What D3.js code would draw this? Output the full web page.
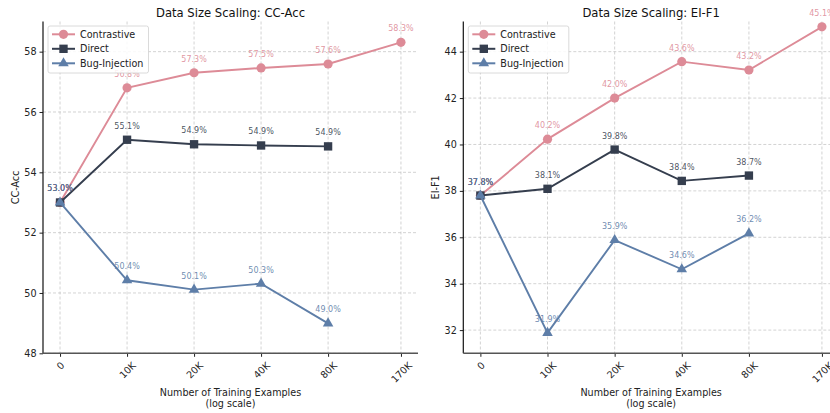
<!DOCTYPE html>
<html>
<head>
<meta charset="utf-8">
<script src="https://cdn.jsdelivr.net/npm/d3@7"></script>
<style>
  body { margin: 0; background: #fff; }
  text { font-family: "DejaVu Sans", sans-serif; }
</style>
</head>
<body>
<svg id="chart" width="830" height="413"></svg>
<script>
// Data
const sizes = [0, 10000, 20000, 40000, 80000, 170000];
const tickLabels = ["0", "10K", "20K", "40K", "80K", "170K"];
const seriesNames = ["Contrastive", "Direct", "Bug-Injection"];

const ccContrastive = [53.0, 56.8, 57.3, 57.46, 57.59, 58.31];
const ccDirect = [53.0, 55.08, 54.93, 54.89, 54.86];
const ccBug = [53.0, 50.42, 50.11, 50.31, 48.99];

const eiContrastive = [37.8, 40.23, 42.0, 43.57, 43.21, 45.07];
const eiDirect = [37.8, 38.09, 39.78, 38.43, 38.66];
const eiBug = [37.8, 31.88, 35.88, 34.62, 36.17];

const ccTicks = [48, 50, 52, 54, 56, 58];
const eiTicks = [32, 34, 36, 38, 40, 42, 44];

const colors = ["#dd8b97", "#353e4e", "#5e7ea8"];
const symbols = [d3.symbolCircle, d3.symbolSquare, d3.symbolTriangle];
const symbolSizes = [66, 70, 48];

const svg = d3.select("#chart");

// log-style position: 0 stays at 0, others log2(n / 5K)
const xPos = n => n === 0 ? 0 : Math.log2(n / 5000);
const xMax = xPos(sizes[sizes.length - 1]);
const xPad = xMax * 0.05;

const plotTop = 21.5, plotBottom = 353.3;

const panels = [
  { title: "Data Size Scaling: CC-Acc", ylabel: "CC-Acc", x0: 43, x1: 418, yDomain: [48, 59],
    yTicks: ccTicks, series: [ccContrastive, ccDirect, ccBug], ylabelX: 15 },
  { title: "Data Size Scaling: EI-F1", ylabel: "EI-F1", x0: 463.3, x1: 839, yDomain: [31, 45.3],
    yTicks: eiTicks, series: [eiContrastive, eiDirect, eiBug], ylabelX: 435 }
];

const fmt = d3.format(".1f");

panels.forEach(p => {
  const x = d3.scaleLinear().domain([-xPad, xMax + xPad]).range([p.x0, p.x1]);
  const y = d3.scaleLinear().domain(p.yDomain).range([plotBottom, plotTop]);
  const g = svg.append("g");

  // Grid
  g.selectAll(".hgrid")
    .data(p.yTicks)
    .enter()
    .append("line")
    .attr("x1", p.x0).attr("x2", p.x1)
    .attr("y1", d => y(d)).attr("y2", d => y(d))
    .attr("stroke", "#c8c8c8")
    .attr("stroke-width", 0.8)
    .attr("stroke-dasharray", "3,2");

  g.selectAll(".vgrid")
    .data(sizes)
    .enter()
    .append("line")
    .attr("x1", d => x(xPos(d))).attr("x2", d => x(xPos(d)))
    .attr("y1", plotTop).attr("y2", plotBottom)
    .attr("stroke", "#c8c8c8")
    .attr("stroke-width", 0.8)
    .attr("stroke-dasharray", "3,2");

  // Lines and markers
  const line = d3.line()
    .x((d, i) => x(xPos(sizes[i])))
    .y(d => y(d));

  p.series.forEach((vals, s) => {
    g.append("path")
      .attr("d", line(vals))
      .attr("fill", "none")
      .attr("stroke", colors[s])
      .attr("stroke-width", 1.9);

    g.selectAll(".m" + s)
      .data(vals)
      .enter()
      .append("path")
      .attr("d", d3.symbol().type(symbols[s]).size(symbolSizes[s]))
      .attr("transform", (d, i) => `translate(${x(xPos(sizes[i]))},${y(d)})`)
      .attr("fill", colors[s]);
  });

  // Value labels
  p.series.forEach((vals, s) => {
    g.selectAll(".l" + s)
      .data(vals)
      .enter()
      .append("text")
      .attr("x", (d, i) => x(xPos(sizes[i])))
      .attr("y", d => y(d) - 11)
      .attr("text-anchor", "middle")
      .attr("font-size", "8px")
      .attr("fill", colors[s])
      .attr("fill-opacity", 0.9)
      .text(d => fmt(d) + "%");
  });

  // Y axis
  const yAxis = g.append("g")
    .attr("transform", `translate(${p.x0},0)`)
    .call(d3.axisLeft(y).tickValues(p.yTicks).tickSize(3.5).tickPadding(3).tickSizeOuter(0));
  yAxis.select(".domain").remove();
  yAxis.selectAll("text").attr("font-size", "9.6px").attr("fill", "#222");
  yAxis.selectAll("line").attr("stroke", "#222");

  // X axis
  const xAxis = g.append("g")
    .attr("transform", `translate(0,${plotBottom})`)
    .call(d3.axisBottom(x).tickValues(sizes.map(xPos)).tickFormat((d, i) => tickLabels[i])
      .tickSize(3.5).tickSizeOuter(0));
  xAxis.select(".domain").remove();
  xAxis.selectAll("line").attr("stroke", "#222");
  xAxis.selectAll("text")
    .attr("font-size", "9.6px")
    .attr("fill", "#222")
    .attr("dy", null)
    .attr("y", 0)
    .attr("text-anchor", "middle")
    .attr("dominant-baseline", "central")
    .each(function () {
      const w = this.getComputedTextLength();
      const cy = 6.8 + (w + 9.6) * 0.3536;
      d3.select(this).attr("transform", `translate(0,${cy}) rotate(-45)`);
    });

  // Spines
  g.append("line")
    .attr("x1", p.x0).attr("x2", p.x0)
    .attr("y1", plotTop).attr("y2", plotBottom)
    .attr("stroke", "#111").attr("stroke-width", 1.2);
  g.append("line")
    .attr("x1", p.x0).attr("x2", p.x1)
    .attr("y1", plotBottom).attr("y2", plotBottom)
    .attr("stroke", "#555").attr("stroke-width", 1.6);

  // Title and labels
  g.append("text")
    .attr("x", (p.x0 + p.x1) / 2)
    .attr("y", 16.5)
    .attr("text-anchor", "middle")
    .attr("font-size", "11.6px")
    .attr("fill", "#111")
    .text(p.title);

  g.append("text")
    .attr("x", (p.x0 + p.x1) / 2)
    .attr("y", 392.7)
    .attr("text-anchor", "middle")
    .attr("dominant-baseline", "central")
    .attr("font-size", "9.6px")
    .attr("fill", "#222")
    .text("Number of Training Examples");
  g.append("text")
    .attr("x", (p.x0 + p.x1) / 2)
    .attr("y", 403)
    .attr("text-anchor", "middle")
    .attr("dominant-baseline", "central")
    .attr("font-size", "9.6px")
    .attr("fill", "#222")
    .text("(log scale)");

  g.append("text")
    .attr("transform", `translate(${p.ylabelX},${(plotTop + plotBottom) / 2}) rotate(-90)`)
    .attr("text-anchor", "middle")
    .attr("dominant-baseline", "central")
    .attr("font-size", "9.6px")
    .attr("fill", "#222")
    .text(p.ylabel);

  // Legend
  const legend = g.append("g")
    .attr("transform", `translate(${p.x0 + 5},26)`);
  legend.append("rect")
    .attr("width", 100.5)
    .attr("height", 47)
    .attr("rx", 2)
    .attr("fill", "#fff")
    .attr("fill-opacity", 0.85)
    .attr("stroke", "#d0d0d0")
    .attr("stroke-width", 0.8);

  const items = legend.selectAll(".item")
    .data(seriesNames)
    .enter()
    .append("g")
    .attr("transform", (d, i) => `translate(0,${8.3 + i * 14.5})`);
  items.append("line")
    .attr("x1", 4).attr("x2", 27)
    .attr("stroke", (d, i) => colors[i])
    .attr("stroke-width", 2);
  items.append("path")
    .attr("d", (d, i) => d3.symbol().type(symbols[i]).size(symbolSizes[i])())
    .attr("transform", "translate(15.5,0)")
    .attr("fill", (d, i) => colors[i]);
  items.append("text")
    .attr("x", 32)
    .attr("dominant-baseline", "central")
    .attr("font-size", "9.6px")
    .attr("fill", "#222")
    .text(d => d);
});
</script>
</body>
</html>
